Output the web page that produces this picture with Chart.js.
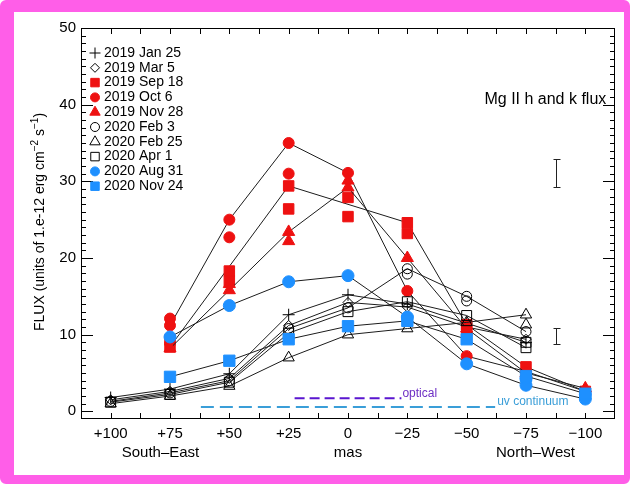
<!DOCTYPE html>
<html>
<head>
<meta charset="utf-8">
<script src="https://cdn.jsdelivr.net/npm/chart.js@4.4.0/dist/chart.umd.min.js"></script>
<style>
  html, body { margin: 0; padding: 0; background: #fff; }
  #frame {
    position: absolute; left: 0; top: 0; width: 630px; height: 484px;
    box-sizing: border-box; border-style: solid; border-color: #ff5ee8;
    border-width: 12px 6px 9px 14px; border-radius: 6px;
  }
  #chart { position: absolute; left: 0; top: 0; }
</style>
</head>
<body>
<div id="frame"></div>
<canvas id="chart" width="630" height="484"></canvas>
<script>
// offsets along the jet (mas), South-East positive
var positions = [100, 75, 50, 25, 0, -25, -50, -75, -100];
var xTicks = [100, 75, 50, 25, 0, -25, -50, -75, -100];
var yTicks = [0, 10, 20, 30, 40, 50];

var epochs = ['2019 Jan 25', '2019 Mar 5', '2019 Sep 18', '2019 Oct 6', '2019 Nov 28',
              '2020 Feb 3', '2020 Feb 25', '2020 Apr 1', '2020 Aug 31', '2020 Nov 24'];

// flux joined by lines, one value per offset
var jan25 = [1.8, 2.9, 4.9, 12.6, 15.2, 14.0, 11.5, 9.0, null];
var mar5  = [1.5, 2.6, 4.3, 11.2, 14.2, 13.6, 11.0, 9.4, null];
var sep18 = [null, 8.4, null, 29.4, null, 24.6, 11.3, 5.8, 2.6];
var oct6  = [null, 11.2, 25.0, 35.0, 31.1, 15.7, 7.2, 5.2, 2.6];
var nov28 = [null, 8.2, null, 23.4, 29.2, 20.0, 10.8, 5.0, 3.0];
var feb3  = [1.3, 2.4, 4.0, 10.8, 13.5, 18.6, 15.0, 10.4, null];
var feb25 = [1.0, 2.0, 3.3, 7.0, 10.0, 10.8, 11.6, 12.6, null];
var apr1  = [1.2, 2.2, 3.8, 10.2, 13.0, 14.3, 12.5, 8.3, null];
var aug31 = [null, 9.7, 13.8, 16.9, 17.7, 12.3, 6.2, 3.4, 1.6];
var nov24 = [null, 4.5, 6.6, 9.4, 11.1, 11.8, 9.4, 4.6, 2.3];

// second readings at the same offset, not joined
var sep18Extra = [[75, 9.3], [50, 18.3], [50, 17.0], [25, 26.4], [0, 27.9], [0, 25.4], [-25, 23.2], [-50, 10.5]];
var oct6Extra  = [[75, 12.1], [50, 22.7], [25, 31.0]];
var nov28Extra = [[50, 16.6], [50, 15.8], [25, 22.2], [0, 30.1]];
var feb3Extra  = [[-25, 17.9], [-50, 14.4]];
var feb25Extra = [[-75, 11.3]];
var apr1Extra  = [[-75, 9.0]];
var aug31Extra = [[-75, 4.3], [-100, 2.2]];

var regions = ['South\u2013East', 'mas', 'North\u2013West'];
var regionPos = [79, 0, -79];

var opticalSpan = [22.5, -22.5], opticalLevel = 1.7;
var uvSpan = [62, -62], uvLevel = 0.55;

var errX = [-87.5, -87.5];
var errLo = [29.3, 8.8];
var errHi = [32.9, 10.9];

var RED = '#ee1111', BLUE = '#1e90ff', INK = '#000000';
var looks = [
  {shape: 'cross',    color: INK,  fill: false, r: 6,   lr: 5.5},
  {shape: 'rectRot',  color: INK,  fill: false, r: 5,   lr: 4.5},
  {shape: 'rect',     color: RED,  fill: true,  r: 7.4, lr: 6},
  {shape: 'circle',   color: RED,  fill: true,  r: 5.5, lr: 4.5},
  {shape: 'triangle', color: RED,  fill: true,  r: 7,   lr: 6},
  {shape: 'circle',   color: INK,  fill: false, r: 5,   lr: 4.5},
  {shape: 'triangle', color: INK,  fill: false, r: 6.5, lr: 6},
  {shape: 'rect',     color: INK,  fill: false, r: 7,   lr: 6},
  {shape: 'circle',   color: BLUE, fill: true,  r: 6,   lr: 4.5},
  {shape: 'rect',     color: BLUE, fill: true,  r: 8,   lr: 6}
];

var series = [jan25, mar5, sep18, oct6, nov28, feb3, feb25, apr1, aug31, nov24];
var extras = [[], [], sep18Extra, oct6Extra, nov28Extra, feb3Extra, feb25Extra, apr1Extra, aug31Extra, []];

var FONT = 'Liberation Sans, Arial, Helvetica, sans-serif';

var datasets = [];
datasets.push({
  label: 'optical', data: [{x: opticalSpan[0], y: opticalLevel}, {x: opticalSpan[1], y: opticalLevel}],
  borderColor: '#5a16d0', borderWidth: 2, borderDash: [10, 5], pointRadius: 0, order: 500
});
datasets.push({
  label: 'uv continuum', data: [{x: uvSpan[0], y: uvLevel}, {x: uvSpan[1], y: uvLevel}],
  borderColor: '#3a9ed8', borderWidth: 2, borderDash: [13, 6], pointRadius: 0, order: 501
});

series.forEach(function(vals, i) {
  var lk = looks[i];
  var style = {
    pointStyle: lk.shape, pointRadius: lk.r, pointBorderWidth: 1,
    pointBorderColor: lk.color,
    pointBackgroundColor: lk.fill ? lk.color : 'rgba(0,0,0,0)'
  };
  datasets.push(Object.assign({
    label: epochs[i],
    data: positions.map(function(p, j) { return {x: p, y: vals[j]}; }),
    spanGaps: true, borderColor: '#1c1c1c', borderWidth: 1,
    order: 100 - 2 * i
  }, style));
  if (extras[i].length) {
    datasets.push(Object.assign({
      label: epochs[i] + ' b',
      data: extras[i].map(function(e) { return {x: e[0], y: e[1]}; }),
      showLine: false, order: 99 - 2 * i
    }, style));
  }
});

function fmtX(v) {
  if (v > 0) return '+' + v;
  if (v < 0) return '\u2212' + (-v);
  return '0';
}

function drawShape(ctx, shape, x, y, r, color, fill) {
  ctx.save();
  ctx.strokeStyle = color; ctx.fillStyle = color; ctx.lineWidth = 1;
  ctx.beginPath();
  if (shape === 'circle') {
    ctx.arc(x, y, r, 0, Math.PI * 2);
  } else if (shape === 'rect') {
    var s = r * Math.SQRT1_2;
    ctx.rect(x - s, y - s, 2 * s, 2 * s);
  } else if (shape === 'triangle') {
    ctx.moveTo(x, y - r);
    ctx.lineTo(x + r * Math.sin(2 * Math.PI / 3), y - r * Math.cos(2 * Math.PI / 3));
    ctx.lineTo(x + r * Math.sin(4 * Math.PI / 3), y - r * Math.cos(4 * Math.PI / 3));
    ctx.closePath();
  } else if (shape === 'rectRot') {
    ctx.moveTo(x, y - r); ctx.lineTo(x + r, y); ctx.lineTo(x, y + r); ctx.lineTo(x - r, y);
    ctx.closePath();
  } else if (shape === 'cross') {
    ctx.moveTo(x - r, y); ctx.lineTo(x + r, y);
    ctx.moveTo(x, y - r); ctx.lineTo(x, y + r);
  }
  if (fill && shape !== 'cross') ctx.fill();
  ctx.stroke();
  ctx.restore();
}

var boxPlugin = {
  id: 'box',
  beforeDatasetsDraw: function(chart) {
    var ctx = chart.ctx, a = chart.chartArea;
    var xs = chart.scales.x, ys = chart.scales.y;
    ctx.save();
    ctx.strokeStyle = '#000'; ctx.lineWidth = 1;
    ctx.strokeRect(a.left + 0.5, a.top + 0.5, a.right - a.left - 1, a.bottom - a.top - 1);
    ctx.beginPath();
    for (var v = -100; v <= 100; v += 12.5) {
      var px = Math.round(xs.getPixelForValue(v)) + 0.5;
      ctx.moveTo(px, a.bottom); ctx.lineTo(px, a.bottom - 6);
      ctx.moveTo(px, a.top); ctx.lineTo(px, a.top + 6);
    }
    for (var w = 0; w < 50; w += 1) {
      var py = Math.round(ys.getPixelForValue(w)) + 0.5;
      var len = (w % 10 === 0) ? 12 : 5;
      ctx.moveTo(a.left, py); ctx.lineTo(a.left + len, py);
      ctx.moveTo(a.right, py); ctx.lineTo(a.right - len, py);
    }
    ctx.stroke();

    // error bars
    ctx.strokeStyle = '#222';
    ctx.beginPath();
    for (var k = 0; k < errX.length; k++) {
      var ex = Math.round(xs.getPixelForValue(errX[k])) + 0.5;
      var lo = Math.round(ys.getPixelForValue(errLo[k])) + 0.5;
      var hi = Math.round(ys.getPixelForValue(errHi[k])) + 0.5;
      ctx.moveTo(ex, lo); ctx.lineTo(ex, hi);
      ctx.moveTo(ex - 3, lo); ctx.lineTo(ex + 4, lo);
      ctx.moveTo(ex - 3, hi); ctx.lineTo(ex + 4, hi);
    }
    ctx.stroke();
    ctx.restore();
  },
  afterDraw: function(chart) {
    var ctx = chart.ctx, a = chart.chartArea;
    var xs = chart.scales.x, ys = chart.scales.y;
    ctx.save();
    ctx.fillStyle = '#000';
    ctx.textBaseline = 'middle';

    // region labels under the axis
    ctx.font = '15px ' + FONT;
    ctx.textAlign = 'center';
    regions.forEach(function(t, i) {
      ctx.fillText(t, xs.getPixelForValue(regionPos[i]), 453);
    });

    // title inside the plot
    ctx.font = '16px ' + FONT;
    ctx.textAlign = 'left';
    ctx.fillText('Mg II h and k flux', xs.getPixelForValue(-57.5), ys.getPixelForValue(40.6));

    // labels of the dashed bars
    ctx.font = '12px ' + FONT;
    ctx.fillStyle = '#6e30c4';
    ctx.fillText('optical', xs.getPixelForValue(opticalSpan[1]) + 1, ys.getPixelForValue(opticalLevel) - 5);
    ctx.fillStyle = '#3a9ed8';
    ctx.fillText('uv continuum', xs.getPixelForValue(uvSpan[1]) + 2, ys.getPixelForValue(uvLevel) - 5);

    // y axis title with superscripts
    ctx.fillStyle = '#000';
    ctx.translate(40, 222);
    ctx.rotate(-Math.PI / 2);
    var parts = [['FLUX (units of 1.e-12 erg cm', 0], ['\u22122', 1], [' s', 0], ['\u22121', 1], [')', 0]];
    var total = 0;
    parts.forEach(function(p) {
      ctx.font = (p[1] ? '10px ' : '14px ') + FONT;
      total += ctx.measureText(p[0]).width;
    });
    var cx = -total / 2;
    parts.forEach(function(p) {
      ctx.font = (p[1] ? '10px ' : '14px ') + FONT;
      ctx.fillText(p[0], cx, p[1] ? -5 : 0);
      cx += ctx.measureText(p[0]).width;
    });
    ctx.restore();

    // legend in the upper left corner
    ctx.save();
    ctx.font = '14px ' + FONT;
    ctx.textAlign = 'left';
    ctx.textBaseline = 'middle';
    ctx.fillStyle = '#000';
    epochs.forEach(function(name, i) {
      var y = 53 + i * 14.8;
      var lk = looks[i];
      drawShape(ctx, lk.shape, 95, y, lk.lr, lk.color, lk.fill);
      ctx.fillStyle = '#000';
      ctx.fillText(name, 104, y);
    });
    ctx.restore();
  }
};

new Chart(document.getElementById('chart'), {
  type: 'line',
  data: { datasets: datasets },
  options: {
    responsive: false,
    animation: false,
    devicePixelRatio: 1,
    layout: { padding: { top: 28, right: 15, left: 0, bottom: 0 } },
    plugins: { legend: { display: false }, tooltip: { enabled: false } },
    scales: {
      x: {
        type: 'linear', reverse: true, min: -112.5, max: 112.5,
        afterBuildTicks: function(s) { s.ticks = xTicks.map(function(v) { return {value: v}; }); },
        afterFit: function(s) { s.height = 65; },
        ticks: { callback: fmtX, font: { family: FONT, size: 15 }, color: '#000', padding: 6, maxRotation: 0, autoSkip: false },
        grid: { display: false, drawTicks: false },
        border: { display: false }
      },
      y: {
        type: 'linear', min: -1, max: 50,
        afterBuildTicks: function(s) { s.ticks = yTicks.map(function(v) { return {value: v}; }); },
        afterFit: function(s) { s.width = 81; },
        ticks: { font: { family: FONT, size: 15 }, color: '#000', padding: 5 },
        grid: { display: false, drawTicks: false },
        border: { display: false }
      }
    }
  },
  plugins: [boxPlugin]
});
</script>
</body>
</html>
